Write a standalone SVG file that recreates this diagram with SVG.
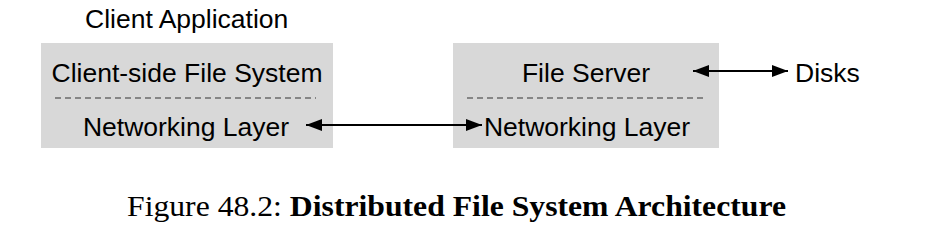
<svg xmlns="http://www.w3.org/2000/svg" width="928" height="236" viewBox="0 0 928 236">
<style>
.box{fill:#d8d8d8;stroke:none}
.dash{stroke:#333;stroke-width:1;stroke-dasharray:6,4;fill:none}
.t{font-family:"Liberation Sans",Arial,sans-serif;font-size:26.5px;fill:#000}
.c{font-family:"Liberation Serif","Times New Roman",serif;font-size:29px;fill:#000}
.line{stroke:#000;stroke-width:2;fill:none}
</style>
<defs>
<marker id="ah" viewBox="0 0 16 12" refX="16" refY="6" markerWidth="16" markerHeight="12" orient="auto-start-reverse" markerUnits="userSpaceOnUse">
<path d="M0,0 L16,6 L0,12 z" fill="#000"/>
</marker>
</defs>
<text class="t" x="85" y="28">Client Application</text>
<g id="client">
<rect class="box" x="41" y="43" width="292" height="105"/>
<text class="t" x="187" y="82" text-anchor="middle">Client-side File System</text>
<line class="dash" x1="55" y1="98" x2="316" y2="98"/>
<text class="t" x="186" y="136" text-anchor="middle">Networking Layer</text>
</g>
<g id="server">
<rect class="box" x="453" y="43" width="266" height="105"/>
<text class="t" x="586" y="82" text-anchor="middle">File Server</text>
<line class="dash" x1="467" y1="98" x2="707" y2="98"/>
<text class="t" x="587" y="136" text-anchor="middle">Networking Layer</text>
</g>
<g id="disks">
<text class="t" x="795" y="82">Disks</text>
</g>
<g id="connectors">
<line class="line" x1="306" y1="125" x2="482" y2="125" marker-start="url(#ah)" marker-end="url(#ah)"/>
<line class="line" x1="693" y1="71" x2="788" y2="71" marker-start="url(#ah)" marker-end="url(#ah)"/>
</g>
<text class="c" x="127" y="216" textLength="659" lengthAdjust="spacingAndGlyphs">Figure 48.2: <tspan font-weight="bold">Distributed File System Architecture</tspan></text>
</svg>
